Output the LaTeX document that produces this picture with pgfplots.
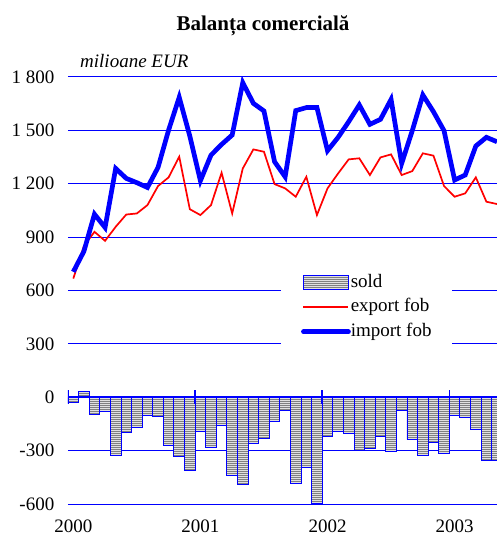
\documentclass[border=0pt]{standalone}
\usepackage{fontspec}
\setmainfont{Liberation Serif}
\usepackage{pgfplots}
\usepackage{pgfplotstable}
\pgfplotsset{compat=1.18}
\usetikzlibrary{patterns}
\pgfdeclarepatternformonly{hstripes}{\pgfpoint{-1bp}{0bp}}{\pgfpoint{101bp}{2bp}}{\pgfpoint{100bp}{2bp}}{%
  \pgfpathrectangle{\pgfpoint{-1bp}{0bp}}{\pgfpoint{102bp}{1bp}}%
  \pgfusepath{fill}}
\pgfplotstableread{
m imp exp sold
0 705 667 -32
1 820 850 30
2 1029 930 -96
3 954 879 -79
4 1286 958 -326
5 1230 1027 -200
6 1206 1033 -171
7 1179 1080 -101
8 1292 1187 -107
9 1502 1236 -272
10 1686 1352 -332
11 1468 1057 -411
12 1217 1024 -195
13 1361 1080 -283
14 1421 1262 -158
15 1474 1033 -441
16 1768 1286 -489
17 1652 1393 -261
18 1609 1380 -233
19 1324 1198 -135
20 1239 1174 -73
21 1611 1127 -486
22 1628 1239 -392
23 1628 1024 -595
24 1386 1174 -219
25 1461 1258 -191
26 1549 1337 -201
27 1643 1343 -298
28 1534 1249 -289
29 1562 1348 -219
30 1674 1365 -304
31 1314 1249 -73
32 1498 1271 -238
33 1699 1371 -326
34 1605 1358 -253
35 1498 1187 -317
36 1221 1127 -101
37 1249 1146 -111
38 1412 1236 -180
39 1461 1099 -358
40 1436 1086 -354
}\data
\tikzset{soldstyle/.style={draw=blue, line width=0.9bp, fill=black!50,
  postaction={pattern=hstripes, pattern color=black!12}}}
\begin{document}
\begin{tikzpicture}
\begin{axis}[name=ax, scale only axis, width=429bp, height=427bp,
  xmin=-0.5, xmax=40, ymin=-600, ymax=1800,
  ytick={-600,-300,0,300,600,900,1200,1500,1800},
  yticklabels={-600,-300,0,300,600,900,1 200,1 500,1 800},
  xtick={0,12,24,36}, xticklabels={2000,2001,2002,2003},
  ymajorgrids, grid style={blue, line width=1bp},
  axis line style={draw=none}, tick style={draw=none},
  ticklabel style={font=\fontsize{19bp}{22bp}\selectfont},
  yticklabel style={inner xsep=0pt, xshift=-13.5bp},
  xticklabel style={inner ysep=0pt, yshift=-16bp},
  legend style={at={(axis cs:19.6,726)}, anchor=north west, draw=none, fill=white,
    inner xsep=20bp, inner ysep=6bp, font=\fontsize{19bp}{22bp}\selectfont,
    nodes={inner sep=0pt, text height=13bp, text depth=4bp},
    row sep=7.5bp, /tikz/every even column/.style={column sep=5bp}},
  legend cell align=left,
]
\addplot[ybar, bar width=1, soldstyle,
  legend image code/.code={\draw[soldstyle] (0bp,-7bp) rectangle (45bp,7bp);}]
  table[x=m, y=sold]{\data};
\addlegendentry{sold}
\addplot[red, line width=1.7bp, no marks,
  legend image code/.code={\draw[red, line width=1.7bp] (0bp,0bp) -- (45bp,0bp);}]
  table[x=m, y=exp]{\data};
\addlegendentry{export fob}
\addplot[blue, line width=4.7bp, no marks,
  legend image code/.code={\draw[blue, line width=4.7bp, line cap=round] (0bp,0bp) -- (45bp,0bp);}]
  table[x=m, y=imp]{\data};
\addlegendentry{import fob}
\draw[blue, line width=2.2bp] (axis cs:-0.5,0) -- (axis cs:40,0);
\pgfplotsinvokeforeach{-0.5,11.5,23.5,35.5}{
  \draw[blue, line width=1.5bp] (axis cs:#1,-40) -- (axis cs:#1,40);
}
\end{axis}
\node[anchor=base, font=\bfseries\fontsize{21bp}{24bp}\selectfont, inner sep=0pt]
  at ([xshift=195bp, yshift=46bp]ax.north west) {Balanța comercială};
\node[anchor=base west, font=\itshape\fontsize{19bp}{22bp}\selectfont, inner sep=0pt]
  at ([xshift=12bp, yshift=9bp]ax.north west) {milioane EUR};
\pgfresetboundingbox
\path[use as bounding box] ([xshift=-68bp,yshift=-33bp]ax.south west) rectangle ([yshift=77bp]ax.north east);
\end{tikzpicture}
\end{document}
